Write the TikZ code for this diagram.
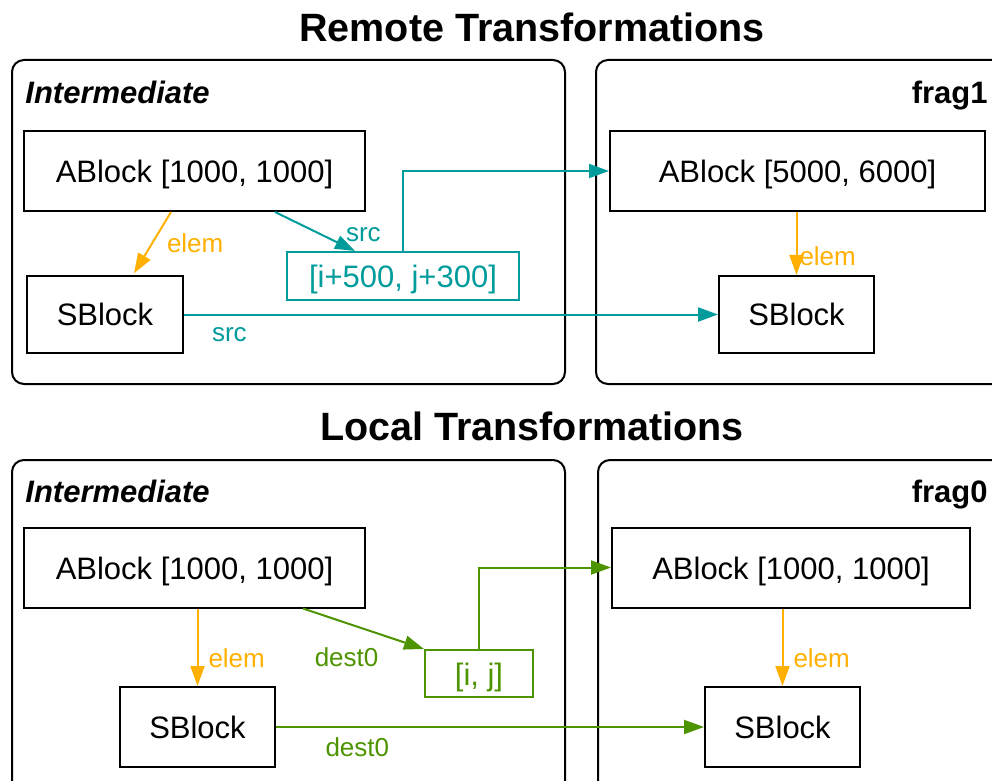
\documentclass[tikz,border=0pt]{standalone}
\usepackage{fontspec}
\setmainfont{Liberation Sans}
\usepackage{tikz}
\usetikzlibrary{arrows.meta}
\usetikzlibrary{calc}

\definecolor{srcteal}{RGB}{0,155,155}
\definecolor{destgreen}{RGB}{78,148,0}
\definecolor{elemorange}{RGB}{255,176,0}

\tikzset{
	block/.style={draw, line width=1pt, minimum height=40pt, inner sep=0pt, text height=11.5pt, text depth=0pt, font=\fontsize{15.5pt}{19pt}\selectfont},
	idxbox/.style={draw, line width=1pt, minimum height=24pt, inner sep=0pt, text height=11.5pt, text depth=0pt, font=\fontsize{15.5pt}{19pt}\selectfont},
	frame/.style={draw, line width=1pt, rounded corners=6pt},
	lbl/.style={font=\fontsize{13pt}{15pt}\selectfont, inner sep=1pt},
	hdr/.style={font=\fontsize{15.5pt}{18pt}\selectfont\bfseries, inner sep=0pt},
	ttl/.style={font=\fontsize{19.75pt}{23pt}\selectfont\bfseries, inner sep=0pt},
	conn/.style={line width=1pt, -{Triangle[length=10pt, width=7pt]}},
}

\begin{document}
\begin{tikzpicture}[x=0.5pt, y=-0.5pt]
\useasboundingbox (0,0) rectangle (992,781);
\clip (0,0) rectangle (992,781);

% remote
\node[ttl, anchor=base] (remote) at (532,42) {Remote Transformations};
\draw[frame] (12,60) rectangle (565,384);
\draw[frame] (596,60) rectangle (1010,384);
\node[hdr, anchor=base west] (interA) at (25,104) {\itshape Intermediate};
\node[hdr, anchor=base east] (fragA) at (988,104) {frag1};

\node[block, minimum width=170.5pt] (ablockA) at (194.5,171) {ABlock [1000, 1000]};
\node[block, minimum width=78pt, minimum height=38.5pt] (sblockA) at (105,314.5) {SBlock};
\node[idxbox, srcteal, minimum width=116pt] (idxA) at (403,276) {[i+500, j+300]};
\node[block, minimum width=187.5pt] (ablockB) at (797.5,171) {ABlock [5000, 6000]};
\node[block, minimum width=77.5pt, minimum height=38.5pt] (sblockB) at (796.5,314.5) {SBlock};

\draw[conn, elemorange, shorten >=1pt] ([xshift=-11.75pt]ablockA.south) -- ([xshift=14pt]sblockA.north)
	node[lbl, pos=0.5, right=6pt] {elem};
\draw[conn, srcteal] ([xshift=40.25pt]ablockA.south) -- ([xshift=-24pt]idxA.north)
	node[lbl, pos=0.85, above right] {src};
\draw[conn, srcteal] (idxA.north) |- (ablockB.west);
\draw[conn, srcteal] (sblockA.east) -- (sblockB.west)
	node[lbl, pos=0.085, below=5pt] {src};
\draw[conn, elemorange] (ablockB.south -| sblockB.north) -- (sblockB.north)
	node[lbl, pos=0.7, right=0pt] {elem};

% local
\node[ttl, anchor=base] (local) at (532,440) {Local Transformations};
\draw[frame] (12,460) rectangle (565,800);
\draw[frame] (598,460) rectangle (1010,800);
\node[hdr, anchor=base west] (interB) at (25,502) {\itshape Intermediate};
\node[hdr, anchor=base east] (fragB) at (988,502) {frag0};

\node[block, minimum width=170.5pt] (ablockC) at (194.5,567.5) {ABlock [1000, 1000]};
\node[block, minimum width=77.5pt] (sblockC) at (197.5,727) {SBlock};
\node[idxbox, destgreen, minimum width=54pt, minimum height=23.5pt] (idxB) at (479,673.5) {[i, j]};
\node[block, minimum width=179pt] (ablockD) at (791,567.5) {ABlock [1000, 1000]};
\node[block, minimum width=77.5pt] (sblockD) at (782.5,727) {SBlock};

\draw[conn, elemorange] (ablockC.south -| sblockC.north) -- (sblockC.north)
	node[lbl, pos=0.64, right=4pt] {elem};
\draw[conn, destgreen] ([xshift=54.25pt]ablockC.south) -- (idxB.north west)
	node[lbl, pos=0.36, below=11pt] {dest0};
\draw[conn, destgreen] (idxB.north) |- (ablockD.west);
\draw[conn, destgreen] (sblockC.east) -- (sblockD.west)
	node[lbl, pos=0.19, below=4pt] {dest0};
\draw[conn, elemorange] (ablockD.south -| sblockD.north) -- (sblockD.north)
	node[lbl, pos=0.64, right=4pt] {elem};
\end{tikzpicture}
\end{document}
